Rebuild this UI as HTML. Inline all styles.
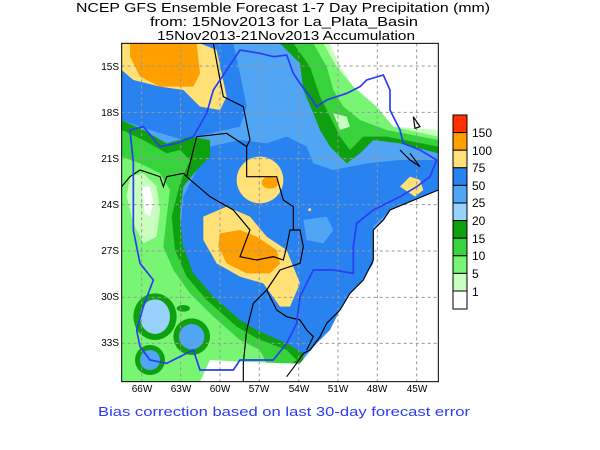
<!DOCTYPE html>
<html><head><meta charset="utf-8"><style>
html,body{margin:0;padding:0;background:#fff;width:600px;height:450px;overflow:hidden}
svg{display:block}
text{font-family:"Liberation Sans",sans-serif}
</style></head><body>
<svg width="600" height="450" viewBox="0 0 600 450" xmlns="http://www.w3.org/2000/svg">
<text x="283" y="12" font-size="13" text-anchor="middle" textLength="414" lengthAdjust="spacingAndGlyphs">NCEP GFS Ensemble Forecast 1-7 Day Precipitation (mm)</text>
<text x="284" y="26" font-size="13" text-anchor="middle" textLength="268" lengthAdjust="spacingAndGlyphs">from: 15Nov2013   for La_Plata_Basin</text>
<text x="286" y="40" font-size="13" text-anchor="middle" textLength="258" lengthAdjust="spacingAndGlyphs">15Nov2013-21Nov2013 Accumulation</text>
<defs><clipPath id="c"><rect x="65" y="40" width="950" height="1015"/></clipPath></defs>
<g transform="translate(100,30) scale(0.33333)">
<g clip-path="url(#c)">
<rect x="65" y="40" width="950" height="1015" fill="#50a5f5"/>
<polygon fill="#2882f0" points="65,40 400,40 420,130 440,230 420,290 330,310 250,330 150,300 65,270"/>
<polygon fill="#2882f0" points="330,350 420,330 500,340 560,320 620,350 640,400 700,420 800,400 900,390 1015,390 1015,480 870,540 820,590 820,700 780,760 740,800 700,900 650,940 600,990 500,950 420,900 380,850 300,780 260,700 240,600 250,500 290,420"/>
<polygon fill="#50a5f5" points="560,120 640,150 650,250 640,320 580,300 540,220"/>
<polygon fill="#50a5f5" points="610,570 680,560 700,600 670,640 620,630"/>
<polygon fill="#0fa00f" points="65,270 130,300 200,340 270,320 330,330 330,380 290,420 250,470 240,560 250,650 280,730 340,800 420,870 470,900 560,940 610,970 610,1000 560,1030 450,1055 65,1055"/>
<polygon fill="#37d23c" points="65,300 130,330 200,370 240,360 270,390 240,460 215,560 225,660 260,740 320,810 410,890 470,925 560,960 590,990 540,1025 450,1055 65,1055"/>
<polygon fill="#78f573" points="65,380 120,400 180,430 210,480 200,560 190,650 220,720 270,790 340,860 420,930 480,960 500,1000 450,1055 65,1055"/>
<polygon fill="#c8ffbe" points="90,440 130,430 170,470 180,540 170,620 130,640 100,580 80,500"/>
<polygon fill="#fff" points="125,470 150,470 160,520 150,560 135,550"/>
<polygon fill="#fff" points="330,990 420,995 560,1000 600,1000 580,1055 300,1055"/>
<ellipse cx="165" cy="860" rx="65" ry="70" fill="#0fa00f"/>
<ellipse cx="165" cy="860" rx="45" ry="52" fill="#96d2fa"/>
<ellipse cx="275" cy="920" rx="55" ry="55" fill="#0fa00f"/>
<ellipse cx="275" cy="920" rx="38" ry="38" fill="#50a5f5"/>
<ellipse cx="150" cy="990" rx="45" ry="45" fill="#0fa00f"/>
<ellipse cx="150" cy="990" rx="30" ry="30" fill="#50a5f5"/>
<ellipse cx="250" cy="835" rx="20" ry="10" fill="#0fa00f"/>
<polygon fill="#0fa00f" points="540,40 600,100 610,180 640,250 660,300 690,350 740,400 780,370 820,330 900,340 1015,370 1015,40"/>
<polygon fill="#37d23c" points="580,40 630,110 660,200 690,260 720,320 750,360 790,320 860,320 1015,350 1015,40"/>
<polygon fill="#78f573" points="640,40 680,110 700,180 730,230 780,270 860,300 1015,330 1015,40"/>
<polygon fill="#c8ffbe" points="670,40 710,110 760,170 830,230 880,290 1015,320 1015,40"/>
<polygon fill="#fff" points="690,40 720,110 760,170 830,230 880,290 1015,300 1015,40"/>
<polygon fill="#c8ffbe" points="700,250 740,260 750,290 720,300"/>
<polygon fill="#fff" points="1015,480 870,540 850,570 820,600 820,700 790,750 750,790 720,840 690,900 650,940 600,1000 580,1055 1015,1055"/>
<polygon fill="#ffe178" points="65,40 300,40 350,60 380,200 360,240 300,230 250,180 180,170 100,150 65,120"/>
<polygon fill="#ffa000" points="90,40 290,40 300,130 280,170 180,170 120,140 90,80"/>
<ellipse cx="480" cy="450" rx="70" ry="70" fill="#ffe178"/>
<ellipse cx="510" cy="458" rx="25" ry="18" fill="#ffa000"/>
<polygon fill="#ffe178" points="310,560 380,530 450,560 500,620 560,660 600,760 570,830 540,830 490,760 420,740 350,700 310,630"/>
<polygon fill="#ffa000" points="360,610 420,600 470,620 530,660 540,700 510,730 440,730 380,700 355,650"/>
<polygon fill="#ffe178" points="900,470 930,440 960,450 970,480 945,500"/>
<rect x="625" y="535" width="8" height="8" fill="#ffe178"/>
</g>
<g stroke="#999" stroke-width="3" stroke-dasharray="9,9">
<line x1="125" y1="40" x2="125" y2="1055"/><line x1="242" y1="40" x2="242" y2="1055"/><line x1="360" y1="40" x2="360" y2="1055"/><line x1="478" y1="40" x2="478" y2="1055"/><line x1="596" y1="40" x2="596" y2="1055"/><line x1="714" y1="40" x2="714" y2="1055"/><line x1="832" y1="40" x2="832" y2="1055"/><line x1="950" y1="40" x2="950" y2="1055"/>
<line x1="65" y1="108" x2="1015" y2="108"/><line x1="65" y1="247" x2="1015" y2="247"/><line x1="65" y1="386" x2="1015" y2="386"/><line x1="65" y1="524" x2="1015" y2="524"/><line x1="65" y1="663" x2="1015" y2="663"/><line x1="65" y1="802" x2="1015" y2="802"/><line x1="65" y1="940" x2="1015" y2="940"/>
</g>
<g fill="none" stroke="#000" stroke-width="3.5">
<polyline points="340,40 360,150 370,200 430,230 450,330 440,350 440,440 530,440 550,510 580,530 580,600"/>
<polyline points="290,320 380,310 440,350"/>
<polyline points="260,440 330,500 400,540 450,600 420,680 470,690 520,680 550,690 560,650 570,600 600,600 610,650 600,700 540,720 500,780 460,820 440,900 430,1000 430,1055"/>
<polyline points="290,320 270,400 260,440"/>
<polyline points="65,470 90,440 120,420 180,440 190,470 200,440 250,430 260,440"/>
<polyline points="500,780 530,840 560,860 600,870 620,900 640,920 620,960"/>
<polyline points="1015,480 870,540 850,570 820,600 820,690 790,750 750,790 720,840 680,880 660,920 630,960 610,970 590,1000 560,1040"/>
<polyline points="900,360 930,390 960,410 930,370"/>
<polyline points="940,260 960,290 945,295 940,260"/>
</g>
<polyline fill="none" stroke="#2a3cf5" stroke-width="5" points="400,90 420,60 480,70 520,80 560,75 580,130 600,160 630,200 650,230 680,210 740,190 780,170 800,150 850,135 870,180 870,240 900,300 910,340 960,360 1010,390 990,440 950,470 900,500 820,540 770,580 760,650 760,730 700,720 640,720 600,800 590,880 560,940 520,990 420,990 400,1020 300,1020 280,960 240,980 200,1000 150,990 120,950 110,900 130,830 160,750 120,700 100,600 100,500 100,400 90,300 130,290 180,350 230,340 280,320 320,250 340,180 380,120 400,90"/>
<rect x="65" y="40" width="950" height="1015" fill="none" stroke="#000" stroke-width="3"/>
</g>
<g font-size="10" text-anchor="end">
<text x="119" y="70">15S</text><text x="119" y="116">18S</text><text x="119" y="162">21S</text><text x="119" y="208">24S</text><text x="119" y="254">27S</text><text x="119" y="300">30S</text><text x="119" y="346">33S</text>
</g>
<g font-size="10" text-anchor="middle">
<text x="142" y="392">66W</text><text x="181" y="392">63W</text><text x="220" y="392">60W</text><text x="259" y="392">57W</text><text x="299" y="392">54W</text><text x="338" y="392">51W</text><text x="377" y="392">48W</text><text x="417" y="392">45W</text>
</g>
<g stroke="#000" stroke-width="1">
<rect x="453" y="115" width="14" height="17.6" fill="#ff3200"/>
<rect x="453" y="132.6" width="14" height="17.6" fill="#ffa000"/>
<rect x="453" y="150.2" width="14" height="17.6" fill="#ffe178"/>
<rect x="453" y="167.8" width="14" height="17.6" fill="#2882f0"/>
<rect x="453" y="185.4" width="14" height="17.6" fill="#50a5f5"/>
<rect x="453" y="203" width="14" height="17.6" fill="#96d2fa"/>
<rect x="453" y="220.6" width="14" height="17.6" fill="#0fa00f"/>
<rect x="453" y="238.2" width="14" height="17.6" fill="#37d23c"/>
<rect x="453" y="255.8" width="14" height="17.6" fill="#78f573"/>
<rect x="453" y="273.4" width="14" height="17.6" fill="#c8ffbe"/>
<rect x="453" y="291" width="14" height="18" fill="#fff"/>
</g>
<g font-size="12">
<text x="472" y="137">150</text><text x="472" y="155">100</text><text x="472" y="172">75</text><text x="472" y="190">50</text><text x="472" y="207">25</text><text x="472" y="225">20</text><text x="472" y="243">15</text><text x="472" y="260">10</text><text x="472" y="278">5</text><text x="472" y="296">1</text>
</g>
<text x="284" y="416" font-size="13" fill="#2a3cf5" text-anchor="middle" textLength="372" lengthAdjust="spacingAndGlyphs">Bias correction based on last 30-day forecast error</text>
</svg>
</body></html>
